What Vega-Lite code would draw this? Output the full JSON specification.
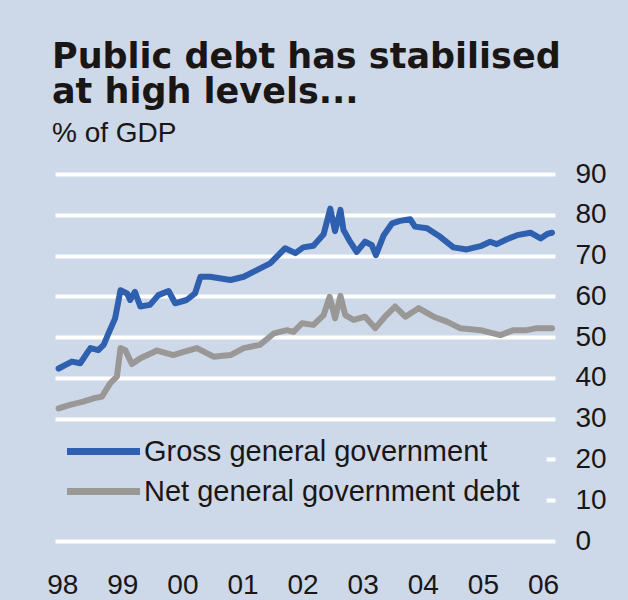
{
  "$schema": "https://vega.github.io/schema/vega-lite/v6.json",
  "width": 500,
  "height": 367,
  "autosize": {"type": "none"},
  "padding": {"left": 55, "top": 174, "right": 73, "bottom": 59},
  "background": "#cdd8e9",
  "title": {
    "text": ["Public debt has stabilised", "at high levels..."],
    "subtitle": "% of GDP",
    "anchor": "start",
    "frame": "group",
    "font": "DejaVu Sans",
    "fontWeight": "bold",
    "fontSize": 35,
    "lineHeight": 35,
    "color": "#1a1616",
    "subtitleFont": "Liberation Sans",
    "subtitleFontSize": 28,
    "subtitleColor": "#1a1616",
    "subtitlePadding": 10,
    "offset": 12,
    "dx": -3
  },
  "data": {
    "values": [
      {"t": 1997.94, "v": 42.3, "s": "Gross general government"},
      {"t": 1998.16, "v": 44.0, "s": "Gross general government"},
      {"t": 1998.30, "v": 43.6, "s": "Gross general government"},
      {"t": 1998.41, "v": 46.0, "s": "Gross general government"},
      {"t": 1998.47, "v": 47.3, "s": "Gross general government"},
      {"t": 1998.60, "v": 46.8, "s": "Gross general government"},
      {"t": 1998.69, "v": 48.1, "s": "Gross general government"},
      {"t": 1998.77, "v": 50.9, "s": "Gross general government"},
      {"t": 1998.88, "v": 54.6, "s": "Gross general government"},
      {"t": 1998.97, "v": 61.5, "s": "Gross general government"},
      {"t": 1999.08, "v": 60.7, "s": "Gross general government"},
      {"t": 1999.13, "v": 59.1, "s": "Gross general government"},
      {"t": 1999.21, "v": 61.1, "s": "Gross general government"},
      {"t": 1999.30, "v": 57.5, "s": "Gross general government"},
      {"t": 1999.46, "v": 57.9, "s": "Gross general government"},
      {"t": 1999.60, "v": 60.3, "s": "Gross general government"},
      {"t": 1999.77, "v": 61.3, "s": "Gross general government"},
      {"t": 1999.88, "v": 58.3, "s": "Gross general government"},
      {"t": 2000.07, "v": 59.1, "s": "Gross general government"},
      {"t": 2000.21, "v": 60.7, "s": "Gross general government"},
      {"t": 2000.30, "v": 64.8, "s": "Gross general government"},
      {"t": 2000.46, "v": 64.8, "s": "Gross general government"},
      {"t": 2000.80, "v": 64.0, "s": "Gross general government"},
      {"t": 2001.02, "v": 64.8, "s": "Gross general government"},
      {"t": 2001.18, "v": 66.0, "s": "Gross general government"},
      {"t": 2001.46, "v": 68.1, "s": "Gross general government"},
      {"t": 2001.71, "v": 71.8, "s": "Gross general government"},
      {"t": 2001.88, "v": 70.6, "s": "Gross general government"},
      {"t": 2002.01, "v": 72.0, "s": "Gross general government"},
      {"t": 2002.18, "v": 72.4, "s": "Gross general government"},
      {"t": 2002.35, "v": 75.2, "s": "Gross general government"},
      {"t": 2002.46, "v": 81.5, "s": "Gross general government"},
      {"t": 2002.54, "v": 76.0, "s": "Gross general government"},
      {"t": 2002.63, "v": 81.2, "s": "Gross general government"},
      {"t": 2002.68, "v": 76.3, "s": "Gross general government"},
      {"t": 2002.79, "v": 73.4, "s": "Gross general government"},
      {"t": 2002.90, "v": 70.9, "s": "Gross general government"},
      {"t": 2003.04, "v": 73.4, "s": "Gross general government"},
      {"t": 2003.15, "v": 72.6, "s": "Gross general government"},
      {"t": 2003.22, "v": 70.1, "s": "Gross general government"},
      {"t": 2003.35, "v": 75.0, "s": "Gross general government"},
      {"t": 2003.49, "v": 77.9, "s": "Gross general government"},
      {"t": 2003.62, "v": 78.5, "s": "Gross general government"},
      {"t": 2003.79, "v": 78.9, "s": "Gross general government"},
      {"t": 2003.87, "v": 77.1, "s": "Gross general government"},
      {"t": 2004.07, "v": 76.7, "s": "Gross general government"},
      {"t": 2004.29, "v": 74.6, "s": "Gross general government"},
      {"t": 2004.51, "v": 72.0, "s": "Gross general government"},
      {"t": 2004.73, "v": 71.5, "s": "Gross general government"},
      {"t": 2004.96, "v": 72.3, "s": "Gross general government"},
      {"t": 2005.12, "v": 73.4, "s": "Gross general government"},
      {"t": 2005.23, "v": 72.8, "s": "Gross general government"},
      {"t": 2005.40, "v": 74.0, "s": "Gross general government"},
      {"t": 2005.57, "v": 75.0, "s": "Gross general government"},
      {"t": 2005.79, "v": 75.6, "s": "Gross general government"},
      {"t": 2005.96, "v": 74.2, "s": "Gross general government"},
      {"t": 2006.07, "v": 75.3, "s": "Gross general government"},
      {"t": 2006.15, "v": 75.6, "s": "Gross general government"},
      {"t": 1997.94, "v": 32.5, "s": "Net general government debt"},
      {"t": 1998.13, "v": 33.4, "s": "Net general government debt"},
      {"t": 1998.35, "v": 34.2, "s": "Net general government debt"},
      {"t": 1998.52, "v": 35.0, "s": "Net general government debt"},
      {"t": 1998.66, "v": 35.4, "s": "Net general government debt"},
      {"t": 1998.80, "v": 38.7, "s": "Net general government debt"},
      {"t": 1998.91, "v": 40.3, "s": "Net general government debt"},
      {"t": 1998.97, "v": 47.3, "s": "Net general government debt"},
      {"t": 1999.05, "v": 46.8, "s": "Net general government debt"},
      {"t": 1999.16, "v": 43.4, "s": "Net general government debt"},
      {"t": 1999.30, "v": 44.8, "s": "Net general government debt"},
      {"t": 1999.58, "v": 46.7, "s": "Net general government debt"},
      {"t": 1999.85, "v": 45.6, "s": "Net general government debt"},
      {"t": 2000.02, "v": 46.4, "s": "Net general government debt"},
      {"t": 2000.24, "v": 47.3, "s": "Net general government debt"},
      {"t": 2000.52, "v": 45.2, "s": "Net general government debt"},
      {"t": 2000.80, "v": 45.6, "s": "Net general government debt"},
      {"t": 2001.02, "v": 47.3, "s": "Net general government debt"},
      {"t": 2001.29, "v": 48.1, "s": "Net general government debt"},
      {"t": 2001.52, "v": 50.9, "s": "Net general government debt"},
      {"t": 2001.74, "v": 51.7, "s": "Net general government debt"},
      {"t": 2001.85, "v": 51.3, "s": "Net general government debt"},
      {"t": 2001.99, "v": 53.4, "s": "Net general government debt"},
      {"t": 2002.18, "v": 53.0, "s": "Net general government debt"},
      {"t": 2002.35, "v": 55.4, "s": "Net general government debt"},
      {"t": 2002.45, "v": 59.9, "s": "Net general government debt"},
      {"t": 2002.54, "v": 54.6, "s": "Net general government debt"},
      {"t": 2002.63, "v": 60.1, "s": "Net general government debt"},
      {"t": 2002.71, "v": 55.4, "s": "Net general government debt"},
      {"t": 2002.85, "v": 54.2, "s": "Net general government debt"},
      {"t": 2003.04, "v": 55.0, "s": "Net general government debt"},
      {"t": 2003.21, "v": 52.2, "s": "Net general government debt"},
      {"t": 2003.37, "v": 55.0, "s": "Net general government debt"},
      {"t": 2003.54, "v": 57.5, "s": "Net general government debt"},
      {"t": 2003.71, "v": 55.0, "s": "Net general government debt"},
      {"t": 2003.93, "v": 57.1, "s": "Net general government debt"},
      {"t": 2004.18, "v": 55.0, "s": "Net general government debt"},
      {"t": 2004.40, "v": 53.8, "s": "Net general government debt"},
      {"t": 2004.62, "v": 52.2, "s": "Net general government debt"},
      {"t": 2004.96, "v": 51.7, "s": "Net general government debt"},
      {"t": 2005.29, "v": 50.5, "s": "Net general government debt"},
      {"t": 2005.51, "v": 51.7, "s": "Net general government debt"},
      {"t": 2005.73, "v": 51.7, "s": "Net general government debt"},
      {"t": 2005.90, "v": 52.2, "s": "Net general government debt"},
      {"t": 2006.15, "v": 52.2, "s": "Net general government debt"}
    ]
  },
  "mark": {"type": "line", "strokeWidth": 6, "strokeJoin": "round", "strokeCap": "round"},
  "encoding": {
    "x": {
      "field": "t",
      "type": "quantitative",
      "scale": {"domain": [1997.88, 2006.2], "nice": false, "zero": false},
      "axis": {
        "title": null,
        "values": [1998, 1999, 2000, 2001, 2002, 2003, 2004, 2005, 2006],
        "labelExpr": "substring(toString(datum.value), 2, 4)",
        "grid": false,
        "domain": false,
        "ticks": false,
        "labelPadding": 30,
        "labelFontSize": 28,
        "labelFont": "Liberation Sans",
        "labelColor": "#1a1616"
      }
    },
    "y": {
      "field": "v",
      "type": "quantitative",
      "scale": {"domain": [0, 90], "nice": false},
      "axis": {
        "title": null,
        "orient": "right",
        "values": [0, 10, 20, 30, 40, 50, 60, 70, 80, 90],
        "grid": true,
        "gridColor": "#ffffff",
        "gridWidth": 4,
        "gridOpacity": 1,
        "gridDash": {"condition": {"test": "datum.value == 10 || datum.value == 20", "value": [9, 600]}, "value": []},
        "domain": false,
        "ticks": false,
        "labelPadding": 20,
        "labelFontSize": 28,
        "labelFont": "Liberation Sans",
        "labelColor": "#1a1616"
      }
    },
    "color": {
      "field": "s",
      "type": "nominal",
      "scale": {
        "domain": ["Gross general government", "Net general government debt"],
        "range": ["#2f5faf", "#9a9896"]
      },
      "legend": {
        "title": null,
        "orient": "none",
        "legendX": 22,
        "legendY": 251,
        "padding": 12,
        "strokeColor": null,
        "symbolType": "M-4,0H4",
        "symbolSize": 333,
        "symbolStrokeWidth": 7,
        "labelFontSize": 29,
        "labelFont": "Liberation Sans",
        "labelColor": "#1a1616",
        "labelLimit": 600,
        "labelOffset": 26,
        "rowPadding": 10
      }
    }
  },
  "config": {
    "view": {"stroke": null}
  }
}
